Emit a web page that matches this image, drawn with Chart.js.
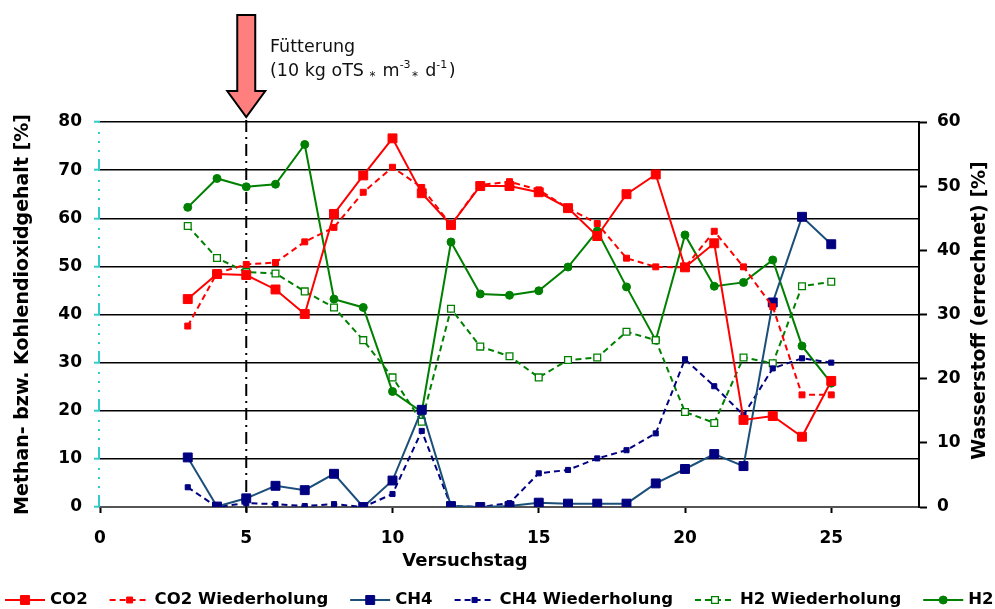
<!DOCTYPE html>
<html>
<head>
<meta charset="utf-8">
<script src="https://cdn.jsdelivr.net/npm/chart.js@4.4.1/dist/chart.umd.min.js"></script>
<style>
  html, body { margin: 0; padding: 0; background: #fff; }
  #chart { display: block; }
</style>
</head>
<body>
<canvas id="chart" width="995" height="609"></canvas>
<script>
// Versuchstage (x) and measured values
const days = [3, 4, 5, 6, 7, 8, 9, 10, 11, 12, 13, 14, 15, 16, 17, 18, 19, 20, 21, 22, 23, 24, 25];

const co2  = [43.2, 48.4, 48.2, 45.2, 40.1, 60.9, 68.9, 76.6, 65.2, 58.6, 66.7, 66.7, 65.4, 62.1, 56.3, 65.0, 69.1, 49.8, 54.8, 18.1, 18.9, 14.6, 26.2];
const co2W = [37.6, 48.6, 50.4, 50.8, 55.1, 58.1, 65.4, 70.6, 66.4, 58.6, 66.9, 67.6, 65.9, 62.1, 58.9, 51.7, 49.9, 49.8, 57.3, 49.9, 41.6, 23.3, 23.3];
const ch4  = [10.3, 0.1, 1.8, 4.4, 3.5, 6.9, 0, 5.5, 20.2, 0.2, 0, 0.2, 0.9, 0.7, 0.7, 0.7, 4.9, 7.9, 11.0, 8.5, 42.5, 60.3, 54.6];
const ch4W = [4.1, 0, 0.8, 0.6, 0.2, 0.6, 0, 2.7, 15.8, 0.2, 0, 0.8, 7.0, 7.7, 10.1, 11.8, 15.3, 30.7, 25.1, 19.1, 28.8, 30.9, 30.0];
const h2W  = [43.8, 38.8, 36.6, 36.4, 33.6, 31.1, 26.0, 20.2, 13.3, 30.9, 25.0, 23.5, 20.2, 22.9, 23.3, 27.3, 26.0, 14.8, 13.1, 23.3, 22.4, 34.4, 35.1];
const h2   = [46.7, 51.2, 49.9, 50.3, 56.5, 32.4, 31.1, 18.0, 14.8, 41.3, 33.2, 33.0, 33.7, 37.4, 43.0, 34.3, 26.0, 42.4, 34.4, 35.0, 38.5, 25.1, 19.3];

const seriesLabels = ['CO2', 'CO2 Wiederholung', 'CH4', 'CH4 Wiederholung', 'H2 Wiederholung', 'H2'];

const xTicks = [0, 5, 10, 15, 20, 25];
const yLeftTicks = [0, 10, 20, 30, 40, 50, 60, 70, 80];
const yRightTicks = [0, 10, 20, 30, 40, 50, 60];
const feedingDay = 5;

const FONT = "'DejaVu Sans', Verdana, sans-serif";

const pts = arr => days.map((d, i) => ({ x: d, y: arr[i] }));

function setTicks(list) {
    return scale => { scale.ticks = list.map(v => ({ value: v })); };
}

function drawMarker(ctx, ds, x, y) {
    const r = ds.pointRadius;
    ctx.save();
    ctx.setLineDash([]);
    ctx.lineWidth = ds.pointBorderWidth;
    ctx.fillStyle = ds.pointBackgroundColor;
    ctx.strokeStyle = ds.pointBorderColor;
    ctx.beginPath();
    if (ds.pointStyle === 'circle') {
        ctx.arc(x, y, r, 0, Math.PI * 2);
    } else {
        const s = Math.SQRT1_2 * r;
        ctx.rect(x - s, y - s, 2 * s, 2 * s);
    }
    ctx.fill();
    ctx.stroke();
    ctx.restore();
}

const decorations = {
    id: 'decorations',
    beforeDatasetsDraw(chart) {
        const { ctx, chartArea, scales } = chart;
        const x = scales.x.getPixelForValue(feedingDay);
        ctx.save();
        ctx.strokeStyle = '#000';
        ctx.lineWidth = 2;
        ctx.setLineDash([12, 5, 2, 5]);
        ctx.beginPath();
        ctx.moveTo(x, chartArea.top - 2);
        ctx.lineTo(x, chartArea.bottom + 5);
        ctx.stroke();
        ctx.restore();

        // turquoise dash-dot left axis line
        ctx.save();
        ctx.strokeStyle = '#33CCCC';
        ctx.lineWidth = 2;
        ctx.setLineDash([12, 7, 2, 7, 2, 7, 2, 9]);
        ctx.beginPath();
        ctx.moveTo(chartArea.left - 1, chartArea.bottom);
        ctx.lineTo(chartArea.left - 1, chartArea.top);
        ctx.stroke();
        ctx.restore();
    },
    afterDraw(chart) {
        const { ctx, chartArea, scales } = chart;
        const ax = scales.x.getPixelForValue(feedingDay);

        // arrow
        ctx.save();
        ctx.fillStyle = '#FF7F7F';
        ctx.strokeStyle = '#000';
        ctx.lineWidth = 2;
        ctx.beginPath();
        ctx.moveTo(ax - 9, 15);
        ctx.lineTo(ax + 9, 15);
        ctx.lineTo(ax + 9, 91);
        ctx.lineTo(ax + 19, 91);
        ctx.lineTo(ax, 117);
        ctx.lineTo(ax - 19, 91);
        ctx.lineTo(ax - 9, 91);
        ctx.closePath();
        ctx.fill();
        ctx.stroke();
        ctx.restore();

        // annotation text
        ctx.save();
        ctx.fillStyle = '#111';
        ctx.textBaseline = 'alphabetic';
        ctx.textAlign = 'left';
        ctx.font = '17.5px ' + FONT;
        ctx.fillText('Fütterung', 270, 52);
        const parts = [
            ['(10 kg oTS ', 17.5, 0],
            ['*', 12, 4],
            [' m', 17.5, 0],
            ['-3', 11, -8],
            ['*', 12, 4],
            [' d', 17.5, 0],
            ['-1', 11, -8],
            [')', 17.5, 0]
        ];
        let tx = 270;
        parts.forEach(([t, size, dy]) => {
            ctx.font = size + 'px ' + FONT;
            ctx.fillText(t, tx, 76 + dy);
            tx += ctx.measureText(t).width + (size < 17 ? 1.5 : 0);
        });
        ctx.restore();

        // right axis title (reads bottom to top)
        ctx.save();
        ctx.fillStyle = '#000';
        ctx.font = 'bold 19px ' + FONT;
        ctx.textAlign = 'center';
        ctx.textBaseline = 'middle';
        ctx.translate(980, (chartArea.top + chartArea.bottom) / 2 - 4);
        ctx.rotate(-Math.PI / 2);
        ctx.fillText('Wasserstoff (errechnet) [%]', 0, 0);
        ctx.restore();

        // x axis title
        ctx.save();
        ctx.fillStyle = '#000';
        ctx.font = 'bold 18px ' + FONT;
        ctx.textAlign = 'center';
        ctx.textBaseline = 'middle';
        ctx.fillText('Versuchstag', 465, 561);
        ctx.restore();

        // legend
        ctx.save();
        ctx.font = 'bold 16.5px ' + FONT;
        ctx.textBaseline = 'middle';
        ctx.textAlign = 'left';
        let lx = 5;
        const ly = 600;
        chart.data.datasets.forEach(ds => {
            ctx.save();
            ctx.strokeStyle = ds.borderColor;
            ctx.lineWidth = ds.borderWidth;
            ctx.setLineDash(ds.borderDash || []);
            ctx.beginPath();
            ctx.moveTo(lx, ly);
            ctx.lineTo(lx + 40, ly);
            ctx.stroke();
            ctx.restore();
            drawMarker(ctx, ds, lx + 20, ly);
            ctx.fillStyle = '#000';
            ctx.fillText(ds.label, lx + 45, ly);
            lx += 45 + ctx.measureText(ds.label).width + 22;
        });
        ctx.restore();
    }
};

const config = {
    type: 'line',
    data: {
        datasets: [
            {
                label: seriesLabels[0], data: pts(co2), yAxisID: 'y',
                borderColor: '#FF0000', borderWidth: 2,
                pointStyle: 'rect', pointRadius: 6.3, pointBorderWidth: 1,
                pointBackgroundColor: '#FF0000', pointBorderColor: '#FF0000'
            },
            {
                label: seriesLabels[1], data: pts(co2W), yAxisID: 'y',
                borderColor: '#FF0000', borderWidth: 2, borderDash: [6, 4],
                pointStyle: 'rect', pointRadius: 4.2, pointBorderWidth: 1,
                pointBackgroundColor: '#FF0000', pointBorderColor: '#FF0000'
            },
            {
                label: seriesLabels[2], data: pts(ch4), yAxisID: 'y',
                borderColor: '#1B4F79', borderWidth: 2,
                pointStyle: 'rect', pointRadius: 6.3, pointBorderWidth: 1,
                pointBackgroundColor: '#000080', pointBorderColor: '#000080'
            },
            {
                label: seriesLabels[3], data: pts(ch4W), yAxisID: 'y',
                borderColor: '#000080', borderWidth: 2, borderDash: [6, 4],
                pointStyle: 'rect', pointRadius: 3.6, pointBorderWidth: 1,
                pointBackgroundColor: '#000080', pointBorderColor: '#000080'
            },
            {
                label: seriesLabels[4], data: pts(h2W), yAxisID: 'y1',
                borderColor: '#008000', borderWidth: 2, borderDash: [6, 4],
                pointStyle: 'rect', pointRadius: 4.8, pointBorderWidth: 1.3,
                pointBackgroundColor: '#FFFFFF', pointBorderColor: '#008000'
            },
            {
                label: seriesLabels[5], data: pts(h2), yAxisID: 'y1',
                borderColor: '#008000', borderWidth: 2,
                pointStyle: 'circle', pointRadius: 4, pointBorderWidth: 1,
                pointBackgroundColor: '#008000', pointBorderColor: '#008000'
            }
        ]
    },
    options: {
        responsive: false,
        animation: false,
        events: [],
        layout: { padding: { top: 122, left: 0, right: 0, bottom: 0 } },
        plugins: {
            legend: { display: false },
            tooltip: { enabled: false }
        },
        scales: {
            x: {
                type: 'linear',
                min: 0,
                max: 28,
                afterBuildTicks: setTicks(xTicks),
                afterFit: s => { s.height = 102; },
                grid: {
                    drawOnChartArea: false,
                    tickLength: 6,
                    tickColor: '#000',
                    tickWidth: 2
                },
                border: { color: '#555', width: 2 },
                ticks: {
                    color: '#000',
                    padding: 15,
                    maxRotation: 0,
                    font: { family: FONT, size: 17, weight: 'bold' }
                }
            },
            y: {
                position: 'left',
                min: 0,
                max: 80,
                afterBuildTicks: setTicks(yLeftTicks),
                afterFit: s => { s.width = 100; },
                grid: {
                    color: '#000',
                    lineWidth: 1.4,
                    tickColor: '#33CCCC',
                    tickLength: 6,
                    tickWidth: 2
                },
                border: { display: false },
                ticks: {
                    color: '#000',
                    padding: 12,
                    font: { family: FONT, size: 17, weight: 'bold' }
                },
                title: {
                    display: true,
                    text: 'Methan- bzw. Kohlendioxidgehalt [%]',
                    color: '#000',
                    padding: { top: 12, bottom: 0 },
                    font: { family: FONT, size: 19, weight: 'bold' }
                }
            },
            y1: {
                position: 'right',
                min: 0,
                max: 60,
                afterBuildTicks: setTicks(yRightTicks),
                afterFit: s => { s.width = 76; },
                grid: {
                    drawOnChartArea: false,
                    tickColor: '#000',
                    tickLength: 8,
                    tickWidth: 2
                },
                border: { color: '#000', width: 2 },
                ticks: {
                    color: '#000',
                    padding: 10,
                    font: { family: FONT, size: 17, weight: 'bold' }
                }
            }
        }
    },
    plugins: [decorations]
};

new Chart(document.getElementById('chart'), config);
</script>
</body>
</html>
